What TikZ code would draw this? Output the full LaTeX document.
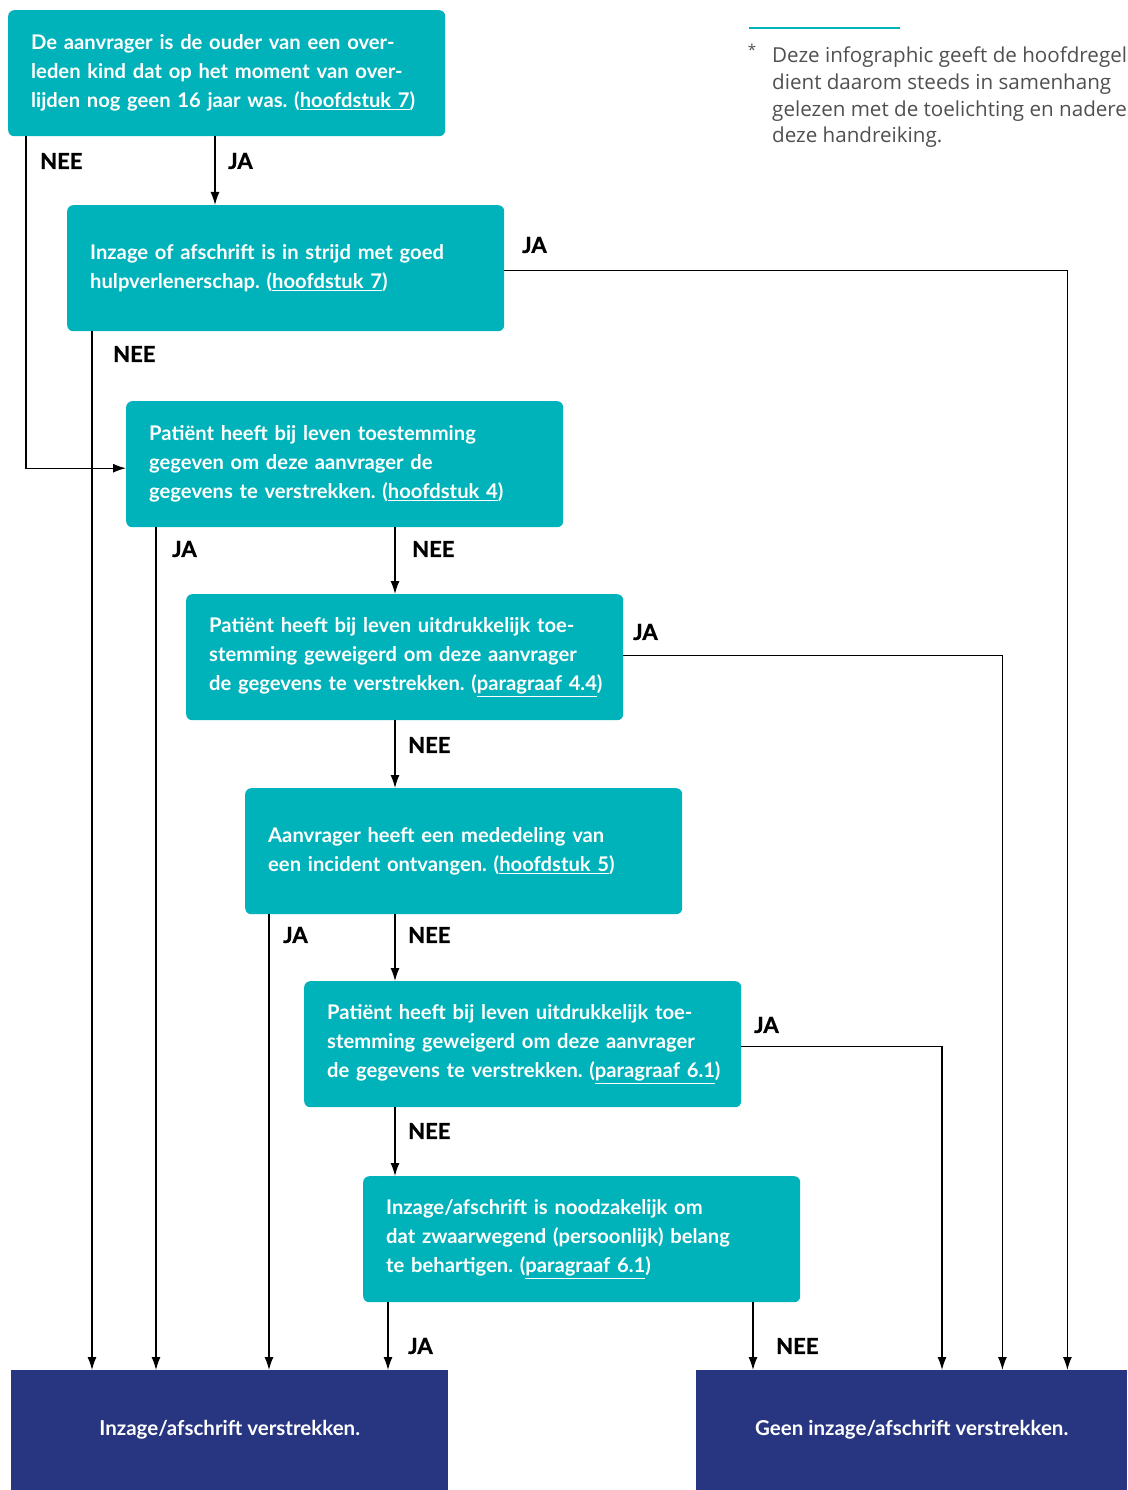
\documentclass[tikz,border=0pt]{standalone}
\usepackage{fontspec}
\setmainfont{Lato}
\newfontfamily\heavyfont{Lato}[BoldFeatures={FakeBold=1.2}]
\newfontfamily\notefont{Open Sans}
\usetikzlibrary{arrows.meta}
\definecolor{teal1}{HTML}{00B3BA}
\definecolor{navy1}{HTML}{283580}
\definecolor{note}{HTML}{505050}
\newcommand{\lnk}[1]{\underline{#1}}
\frenchspacing
\tikzset{
  qbox/.style={fill=teal1, rounded corners=6pt, text=white,
    font=\fontsize{20.2}{29}\selectfont\bfseries, align=left, anchor=north west,
    minimum width=437pt, minimum height=126pt, text width=391pt,
    inner xsep=23pt, inner ysep=0pt},
  endbox/.style={fill=navy1, text=white, font=\fontsize{20.5}{24}\selectfont\bfseries,
    anchor=north west, minimum height=120pt, inner sep=0pt},
  lbl/.style={anchor=west, inner sep=0pt, font=\fontsize{22}{24}\heavyfont\bfseries},
  arr/.style={line width=1.3pt, -{Latex[length=13pt,width=9pt]}},
  fnote/.style={anchor=base west, inner sep=0pt, text=note, font=\fontsize{20.6}{27}\notefont}
}
\begin{document}
\begin{tikzpicture}[x=1pt,y=-1pt]
\useasboundingbox (0,0) rectangle (1127,1490);
\clip (0,0) rectangle (1127,1490);
\fill[white] (0,0) rectangle (1127,1490);

% footnote
\draw[teal1, line width=1.3pt] (749,28) -- (900,28);
\node[anchor=center, inner sep=0pt, text=note, font=\fontsize{15}{15}\notefont] (ast) at (752,50) {*};
\node[fnote] (fn1) at (772,63) {Deze infographic geeft de hoofdregels};
\node[fnote] (fn2) at (772,90) {dient daarom steeds in samenhang};
\node[fnote] (fn3) at (772,117) {gelezen met de toelichting en nadere};
\node[fnote] (fn4) at (772,143) {deze handreiking.};

% question boxes
\node[qbox] (b1) at (8,10) {De aanvrager is de ouder van een over-\\leden kind dat op het moment van over-\\lijden nog geen 16 jaar was. (\lnk{hoofdstuk 7})};
\node[qbox] (b2) at (67,205) {Inzage of afschrift is in strijd met goed\\hulpverlenerschap. (\lnk{hoofdstuk 7})};
\node[qbox] (b3) at (126,401) {Patiënt heeft bij leven toestemming\\gegeven om deze aanvrager de\\gegevens te verstrekken. (\lnk{hoofdstuk 4})};
\node[qbox] (b4) at (186,594) {Patiënt heeft bij leven uitdrukkelijk toe-\\stemming geweigerd om deze aanvrager\\\mbox{de gegevens te verstrekken. (\lnk{paragraaf 4.4})}};
\node[qbox] (b5) at (245,788) {Aanvrager heeft een mededeling van\\een incident ontvangen. (\lnk{hoofdstuk 5})};
\node[qbox] (b6) at (304,981) {Patiënt heeft bij leven uitdrukkelijk toe-\\stemming geweigerd om deze aanvrager\\\mbox{de gegevens te verstrekken. (\lnk{paragraaf 6.1})}};
\node[qbox] (b7) at (363,1176) {Inzage/afschrift is noodzakelijk om\\dat zwaarwegend (persoonlijk) belang\\te behartigen. (\lnk{paragraaf 6.1})};

% end boxes
\node[endbox, minimum width=437pt] (nl) at (11,1370) {\raisebox{-3pt}{Inzage/afschrift verstrekken.}};
\node[endbox, minimum width=431pt] (nr) at (696,1370) {\raisebox{-3pt}{Geen inzage/afschrift verstrekken.}};

% connectors
\draw[arr] ([xshift=18pt]b1.south west) |- ([yshift=-4pt]b3.west);
\draw[arr] ([xshift=207pt]b1.south west) -- ([xshift=148pt]b2.north west);
\draw[arr] ([yshift=-2pt]b2.east) -| ([xshift=-60pt]nr.north east);
\draw[arr] ([xshift=25pt]b2.south west) -- ([xshift=81pt]nl.north west);
\draw[arr] ([xshift=30pt]b3.south west) -- ([xshift=145pt]nl.north west);
\draw[arr] ([xshift=269pt]b3.south west) -- ([xshift=209pt]b4.north west);
\draw[arr] ([yshift=2pt]b4.east) -| ([xshift=-125pt]nr.north east);
\draw[arr] ([xshift=209pt]b4.south west) -- ([xshift=150pt]b5.north west);
\draw[arr] ([xshift=24pt]b5.south west) -- ([xshift=258pt]nl.north west);
\draw[arr] ([xshift=150pt]b5.south west) -- ([xshift=91pt]b6.north west);
\draw[arr] ([yshift=-2pt]b6.east) -| ([xshift=246pt]nr.north west);
\draw[arr] ([xshift=91pt]b6.south west) -- ([xshift=32pt]b7.north west);
\draw[arr] ([xshift=25pt]b7.south west) -- ([xshift=377pt]nl.north west);
\draw[arr] ([xshift=390pt]b7.south west) -- ([xshift=57pt]nr.north west);

% labels
\node[lbl] (l1n) at (40,161) {NEE};
\node[lbl] (l1j) at (228,161) {JA};
\node[lbl] (l2j) at (522,245) {JA};
\node[lbl] (l2n) at (113,354) {NEE};
\node[lbl] (l3j) at (172,549) {JA};
\node[lbl] (l3n) at (412,549) {NEE};
\node[lbl] (l4j) at (633,632) {JA};
\node[lbl] (l4n) at (408,745) {NEE};
\node[lbl] (l5j) at (283,935) {JA};
\node[lbl] (l5n) at (408,935) {NEE};
\node[lbl] (l6j) at (754,1025) {JA};
\node[lbl] (l6n) at (408,1131) {NEE};
\node[lbl] (l7j) at (408,1346) {JA};
\node[lbl] (l7n) at (776,1346) {NEE};
\end{tikzpicture}
\end{document}
